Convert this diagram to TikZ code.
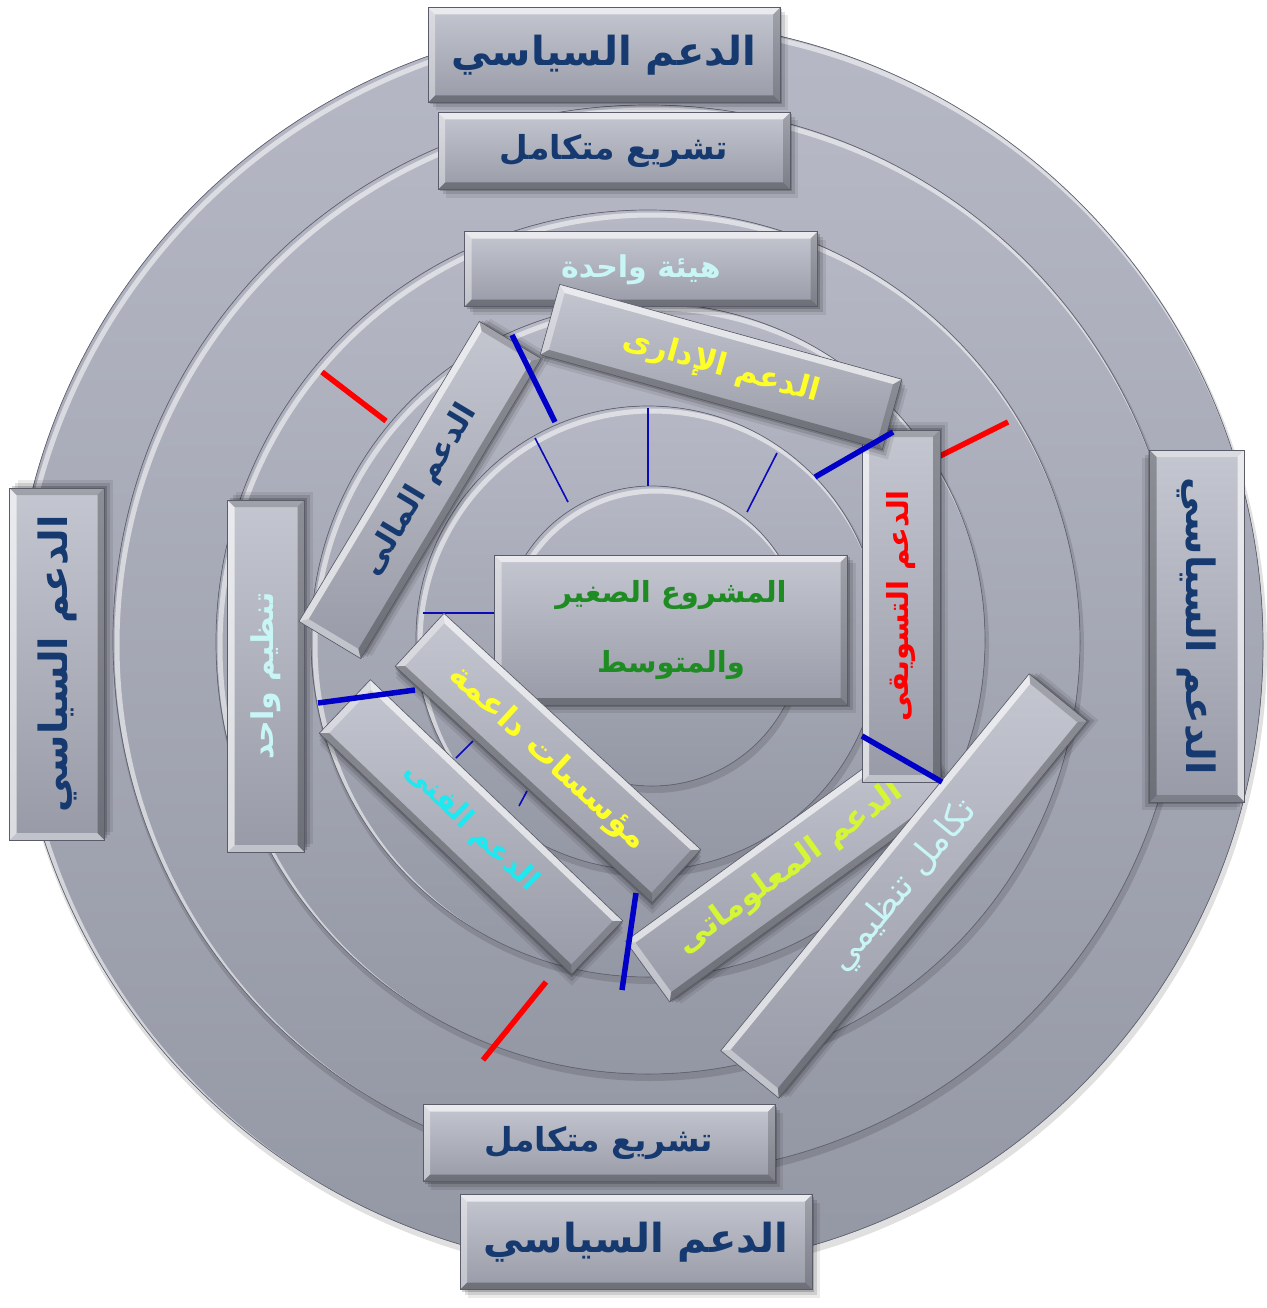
\documentclass[tikz,border=0pt]{standalone}
\usepackage{fontspec}
\newfontfamily\arabicfont[Script=Arabic]{DejaVu Sans}
\TeXXeTstate=1
\usetikzlibrary{calc}

\definecolor{ringtop}{RGB}{182,185,197}
\definecolor{ringbot}{RGB}{148,151,164}
\definecolor{ringedge}{RGB}{100,103,115}
\definecolor{facetop}{RGB}{196,198,208}
\definecolor{facebot}{RGB}{152,155,167}
\definecolor{boxedge}{RGB}{90,93,105}
\definecolor{navy}{RGB}{22,58,112}
\definecolor{paleaqua}{RGB}{200,246,246}
\definecolor{leafgreen}{RGB}{30,140,35}
\definecolor{lime}{RGB}{212,246,52}
\definecolor{aqua}{RGB}{30,232,240}
\definecolor{sunyellow}{RGB}{255,255,40}
\definecolor{thickblue}{RGB}{0,0,200}
\definecolor{thinblue}{RGB}{10,10,185}
\definecolor{markred}{RGB}{255,0,0}

% Arabic label, set right to left
\newcommand\artext[1]{\beginR #1\endR}

\tikzset{
  x=1pt, y=-1pt,
  ringdisc/.style={top color=ringtop, bottom color=ringbot},
  boxnode/.style={draw=boxedge, line width=0.6pt, inner sep=0pt,
    transform shape, align=center},
  fs/.style={font=\arabicfont\bfseries\fontsize{#1}{#1}\selectfont},
  fsr/.style={font=\arabicfont\fontsize{#1}{#1}\selectfont},
  thickmark/.style={line width=5.5pt, thickblue},
  thinmark/.style={line width=1.6pt, thinblue},
  redmark/.style={line width=5.5pt, markred},
}

% one disc of the target: shadow, shaded face, inner highlight, rim
\newcommand\ringlayer[3]{%
  \fill[black,opacity=.12] (#1+2,#2+5) circle[radius=#3+2];
  \fill[ringdisc] (#1,#2) circle[radius=#3];
  \begin{scope}
    \clip (#1,#2) circle[radius=#3];
    \draw[white,opacity=.55,line width=5pt] (#1+4,#2+5) circle[radius=#3];
  \end{scope}
  \draw[ringedge, line width=.7pt] (#1,#2) circle[radius=#3];
}

% bevelled label box: name, cx, cy, length, thickness, angle, text style, text
\newcommand\bevelbox[8]{%
  \begin{scope}[shift={(#2,#3)}, rotate=#6]
    \pgfmathsetmacro\hw{#4/2}%
    \pgfmathsetmacro\hh{#5/2}%
    \pgfmathsetmacro\iw{#4/2-7}%
    \pgfmathsetmacro\ih{#5/2-7}%
    \fill[black,opacity=.08] (-\hw+8,-\hh+8) rectangle (\hw+8,\hh+8);
    \fill[black,opacity=.12] (-\hw+5,-\hh+5) rectangle (\hw+5,\hh+5);
    \fill[black,opacity=.18] (-\hw+2,-\hh+2) rectangle (\hw+2,\hh+2);
    \fill[top color=facetop, bottom color=facebot] (-\hw,-\hh) rectangle (\hw,\hh);
    \fill[white,opacity=.65] (-\hw,-\hh) -- (\hw,-\hh) -- (\iw,-\ih) -- (-\iw,-\ih) -- cycle;
    \fill[white,opacity=.40] (-\hw,-\hh) -- (-\iw,-\ih) -- (-\iw,\ih) -- (-\hw,\hh) -- cycle;
    \fill[black,opacity=.28] (-\hw,\hh) -- (\hw,\hh) -- (\iw,\ih) -- (-\iw,\ih) -- cycle;
    \fill[black,opacity=.18] (\hw,-\hh) -- (\hw,\hh) -- (\iw,\ih) -- (\iw,-\ih) -- cycle;
    \node[boxnode, minimum width=#4pt, minimum height=#5pt, #7] (#1) at (0,0) {#8};
  \end{scope}}

\begin{document}
\begin{tikzpicture}
\fill[white] (0,0) rectangle (1266,1308);
\useasboundingbox (0,0) rectangle (1266,1308);

% concentric target rings
\ringlayer{638}{645}{625}
\ringlayer{648}{640}{535}
\ringlayer{648}{642}{432}
\ringlayer{648}{640}{337}
\ringlayer{648}{638}{232}
\ringlayer{652}{636}{150}

% thin radial ticks on the inner ring
\coordinate (t1a) at (535,438); \coordinate (t1b) at (568,502);
\coordinate (t2a) at (648,408); \coordinate (t2b) at (648,486);
\coordinate (t3a) at (777,453); \coordinate (t3b) at (747,512);
\coordinate (t4a) at (423,613); \coordinate (t4b) at (496,613);
\coordinate (t5a) at (456,758); \coordinate (t5b) at (473,741);
\coordinate (t6a) at (519,806); \coordinate (t6b) at (527,791);
\foreach \p in {1,...,6}{\draw[thinmark] (t\p a) -- (t\p b);}

% red ticks on the outer rings
\coordinate (r1a) at (322,372); \coordinate (r1b) at (386,421);
\coordinate (r2a) at (940,456); \coordinate (r2b) at (1008,422);
\coordinate (r3a) at (483,1060); \coordinate (r3b) at (546,982);
\foreach \p in {1,2,3}{\draw[redmark] (r\p a) -- (r\p b);}

% label boxes
\bevelbox{polTop}{604}{55}{352}{95}{0}{fs=40, text=navy}{\artext{الدعم السياسي}}
\bevelbox{lawTop}{614}{151}{352}{77}{0}{fs=33, text=navy}{\artext{تشريع متكامل}}
\bevelbox{bodyOne}{641}{269}{353}{75}{0}{fs=30, text=paleaqua, text depth=6pt}{\artext{هيئة واحدة}}
\bevelbox{orgOne}{266}{676}{352}{77}{90}{fs=30, text=paleaqua}{\artext{تنظيم واحد}}
\bevelbox{finance}{420}{490}{350}{72}{59}{fs=31, text=navy}{\artext{الدعم المالى}}
\bevelbox{polLeft}{57}{664}{352}{95}{90}{fs=39, text=navy}{\artext{الدعم السياسي}}
\bevelbox{polRight}{1197}{626}{352}{95}{-90}{fs=39, text=navy}{\artext{الدعم السياسي}}
\bevelbox{lawBot}{599}{1143}{352}{77}{0}{fs=33, text=navy}{\artext{تشريع متكامل}}
\bevelbox{polBot}{636}{1242}{352}{95}{0}{fs=40, text=navy}{\artext{الدعم السياسي}}
\bevelbox{core}{671}{630}{353}{150}{0}{fs=29, text=leafgreen}{\artext{المشروع الصغير}\\[40pt]\artext{والمتوسط}}
\bevelbox{technical}{471}{827}{349}{74}{-43.7}{fs=29, text=aqua}{\artext{الدعم الفنى}}
\bevelbox{institutions}{548}{758}{349}{72}{-42.6}{fs=33, text=sunyellow}{\artext{مؤسسات داعمة}}
\bevelbox{info}{790}{868}{352}{75}{36}{fs=32, text=lime}{\artext{الدعم المعلوماتى}}
\bevelbox{integration}{904}{886}{487}{75}{50.7}{fsr=36, text=paleaqua}{\artext{تكامل تنظيمي}}
\bevelbox{marketing}{901}{606}{352}{78}{90}{fs=29, text=markred}{\artext{الدعم التسويقى}}
\bevelbox{admin}{721}{367}{355}{73}{-15.5}{fs=31, text=sunyellow}{\artext{الدعم الإدارى}}

% thick blue links at the pentagon corners
\coordinate (b1a) at (512,335); \coordinate (b1b) at (555,422);
\coordinate (b2a) at (815,477); \coordinate (b2b) at (893,432);
\coordinate (b3a) at (318,703); \coordinate (b3b) at (415,690);
\coordinate (b4a) at (622,990); \coordinate (b4b) at (636,893);
\coordinate (b5a) at (862,736); \coordinate (b5b) at (942,782);
\foreach \p in {1,...,5}{\draw[thickmark] (b\p a) -- (b\p b);}
\end{tikzpicture}
\end{document}
